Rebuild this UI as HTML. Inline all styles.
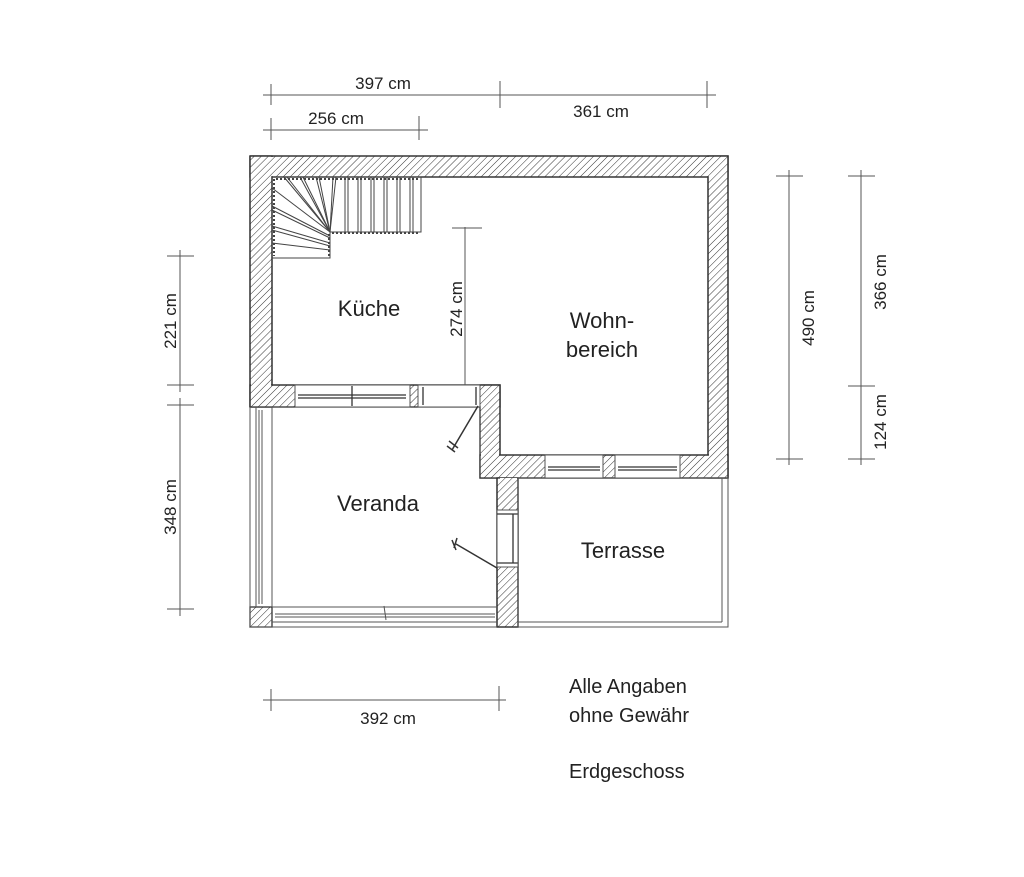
<!DOCTYPE html>
<html><head><meta charset="utf-8"><style>
html,body{margin:0;padding:0;background:#fff}
svg{display:block}
text{font-family:"Liberation Sans",Arial,sans-serif;fill:#222}
</style></head><body>
<svg width="1024" height="877" viewBox="0 0 1024 877" xmlns="http://www.w3.org/2000/svg">
<defs>
<pattern id="h" width="5" height="5" patternUnits="userSpaceOnUse" patternTransform="rotate(45)">
<rect width="5" height="5" fill="#fff"/><line x1="0" y1="0" x2="0" y2="5" stroke="#333" stroke-width="1"/>
</pattern>
</defs>
<g stroke="#333" stroke-width="1.3" fill="url(#h)">
<rect x="250" y="156" width="478" height="21"/>
<rect x="250" y="156" width="22" height="251"/>
<rect x="708" y="156" width="20" height="322"/>
<rect x="250" y="385" width="250" height="22"/>
<rect x="480" y="385" width="20" height="93"/>
<rect x="480" y="455" width="248" height="23"/>
<rect x="497" y="478" width="21" height="149"/>
<rect x="250" y="607" width="22" height="20"/>
</g>
<g fill="url(#h)" stroke="none">
<rect x="251" y="157" width="476" height="19"/>
<rect x="251" y="157" width="20" height="249"/>
<rect x="709" y="157" width="18" height="320"/>
<rect x="251" y="386" width="248" height="20"/>
<rect x="481" y="386" width="18" height="91"/>
<rect x="481" y="456" width="246" height="21"/>
<rect x="498" y="478" width="19" height="148"/>
</g>
<g stroke="#333" stroke-width="1.3" fill="none">
<path d="M250 156H728V478H518V627H497V478H500 M250 156V407 M272 177H708V455H500V385H272V177"/>
</g>
<g stroke="#555" stroke-width="1" fill="#fff">
<rect x="295" y="385" width="115" height="22"/>
<rect x="418" y="385" width="62" height="22"/>
<rect x="545" y="455" width="58" height="23"/>
<rect x="615" y="455" width="65" height="23"/>
<rect x="497" y="510" width="21" height="57"/>
</g>
<g stroke="#333" stroke-width="1.3" fill="none">
<line x1="298" y1="395" x2="406" y2="395"/><line x1="298" y1="398" x2="406" y2="398"/>
<line x1="352" y1="386" x2="352" y2="406"/>
<line x1="423" y1="387" x2="423" y2="405"/><line x1="476" y1="387" x2="476" y2="405"/>
<line x1="548" y1="467" x2="600" y2="467"/><line x1="618" y1="467" x2="677" y2="467"/>
<line x1="548" y1="470" x2="600" y2="470"/><line x1="618" y1="470" x2="677" y2="470"/>
<line x1="497" y1="514" x2="518" y2="514"/><line x1="497" y1="563" x2="518" y2="563"/>
<line x1="513" y1="514" x2="513" y2="563"/>
</g>
<g stroke="#555" stroke-width="1" fill="none">
<line x1="250" y1="407" x2="250" y2="627"/>
<line x1="256" y1="407" x2="256" y2="607"/>
<line x1="259" y1="410" x2="259" y2="604"/>
<line x1="262" y1="410" x2="262" y2="604"/>
<line x1="272" y1="407" x2="272" y2="607"/>
<line x1="250" y1="627" x2="497" y2="627"/>
<line x1="272" y1="607" x2="497" y2="607"/>
<line x1="272" y1="622" x2="497" y2="622"/>
<line x1="275" y1="614" x2="495" y2="614"/>
<line x1="275" y1="617" x2="495" y2="617"/>
<line x1="384" y1="606" x2="386" y2="620"/>
</g>
<g stroke="#555" stroke-width="1" fill="none">
<rect x="518" y="478" width="210" height="149"/>
<line x1="722" y1="478" x2="722" y2="622"/>
<line x1="518" y1="622" x2="722" y2="622"/>
</g>
<g stroke="#333" stroke-width="1.5" fill="none">
<line x1="478" y1="406" x2="452" y2="450"/>
<path d="M447 446l8 6M449 441l9 7"/>
<line x1="497" y1="568" x2="456" y2="544"/>
<path d="M452 540l4 10M457 538l-3 10"/>
</g>
<g stroke="#444" stroke-width="1" fill="none">
<path d="M272 177H421V232H330V258H272"/>
<path d="M274 179V256" stroke-dasharray="2 2" stroke-width="2"/>
<path d="M276 179H420M332 233H420M329 234V257" stroke-dasharray="2 2" stroke-width="2"/>
<line x1="345" y1="177" x2="345" y2="232"/><line x1="348" y1="177" x2="348" y2="232"/>
<line x1="358" y1="177" x2="358" y2="232"/><line x1="361" y1="177" x2="361" y2="232"/>
<line x1="371" y1="177" x2="371" y2="232"/><line x1="374" y1="177" x2="374" y2="232"/>
<line x1="384" y1="177" x2="384" y2="232"/><line x1="387" y1="177" x2="387" y2="232"/>
<line x1="397" y1="177" x2="397" y2="232"/><line x1="400" y1="177" x2="400" y2="232"/>
<line x1="410" y1="177" x2="410" y2="232"/><line x1="413" y1="177" x2="413" y2="232"/>
<line x1="330" y1="232" x2="333" y2="177"/><line x1="330" y1="232" x2="336" y2="177"/>
<line x1="330" y1="232" x2="316" y2="177"/><line x1="330" y1="232" x2="319" y2="177"/>
<line x1="330" y1="232" x2="300" y2="177"/><line x1="330" y1="232" x2="303" y2="177"/>
<line x1="330" y1="232" x2="284" y2="177"/><line x1="330" y1="232" x2="287" y2="177"/>
<line x1="330" y1="232" x2="272" y2="188"/>
<line x1="330" y1="236" x2="272" y2="206"/><line x1="330" y1="238" x2="272" y2="210"/>
<line x1="330" y1="243" x2="272" y2="226"/><line x1="330" y1="246" x2="272" y2="230"/>
<line x1="330" y1="250" x2="272" y2="243"/>
</g>
<g stroke="#555" stroke-width="1" fill="none">
<line x1="263" y1="95" x2="716" y2="95"/>
<line x1="271" y1="84" x2="271" y2="105"/><line x1="500" y1="81" x2="500" y2="108"/><line x1="707" y1="81" x2="707" y2="108"/>
<line x1="263" y1="130" x2="428" y2="130"/>
<line x1="271" y1="118" x2="271" y2="140"/><line x1="419" y1="116" x2="419" y2="140"/>
<line x1="465" y1="227" x2="465" y2="385"/><line x1="452" y1="228" x2="482" y2="228"/>
<line x1="180" y1="250" x2="180" y2="392"/>
<line x1="167" y1="256" x2="194" y2="256"/><line x1="167" y1="385" x2="194" y2="385"/>
<line x1="180" y1="398" x2="180" y2="616"/>
<line x1="167" y1="405" x2="194" y2="405"/><line x1="167" y1="609" x2="194" y2="609"/>
<line x1="789" y1="170" x2="789" y2="465"/>
<line x1="776" y1="176" x2="803" y2="176"/><line x1="776" y1="459" x2="803" y2="459"/>
<line x1="861" y1="170" x2="861" y2="465"/>
<line x1="848" y1="176" x2="875" y2="176"/><line x1="848" y1="386" x2="875" y2="386"/><line x1="848" y1="459" x2="875" y2="459"/>
<line x1="263" y1="700" x2="506" y2="700"/>
<line x1="271" y1="689" x2="271" y2="711"/><line x1="499" y1="686" x2="499" y2="711"/>
</g>
<g font-size="17">
<text x="383" y="89" text-anchor="middle">397 cm</text>
<text x="601" y="117" text-anchor="middle">361 cm</text>
<text x="336" y="124" text-anchor="middle">256 cm</text>
<text x="388" y="724" text-anchor="middle">392 cm</text>
<text transform="translate(462,309) rotate(-90)" text-anchor="middle">274 cm</text>
<text transform="translate(176,321) rotate(-90)" text-anchor="middle">221 cm</text>
<text transform="translate(176,507) rotate(-90)" text-anchor="middle">348 cm</text>
<text transform="translate(814,318) rotate(-90)" text-anchor="middle">490 cm</text>
<text transform="translate(886,282) rotate(-90)" text-anchor="middle">366 cm</text>
<text transform="translate(886,422) rotate(-90)" text-anchor="middle">124 cm</text>
</g>
<g font-size="22">
<text x="369" y="316" text-anchor="middle">Küche</text>
<text x="602" y="328" text-anchor="middle">Wohn-</text>
<text x="602" y="357" text-anchor="middle">bereich</text>
<text x="378" y="511" text-anchor="middle">Veranda</text>
<text x="623" y="558" text-anchor="middle">Terrasse</text>
<text x="569" y="693" font-size="20">Alle Angaben</text>
<text x="569" y="722" font-size="20">ohne Gewähr</text>
<text x="569" y="778" font-size="20">Erdgeschoss</text>
</g>
</svg>
</body></html>
